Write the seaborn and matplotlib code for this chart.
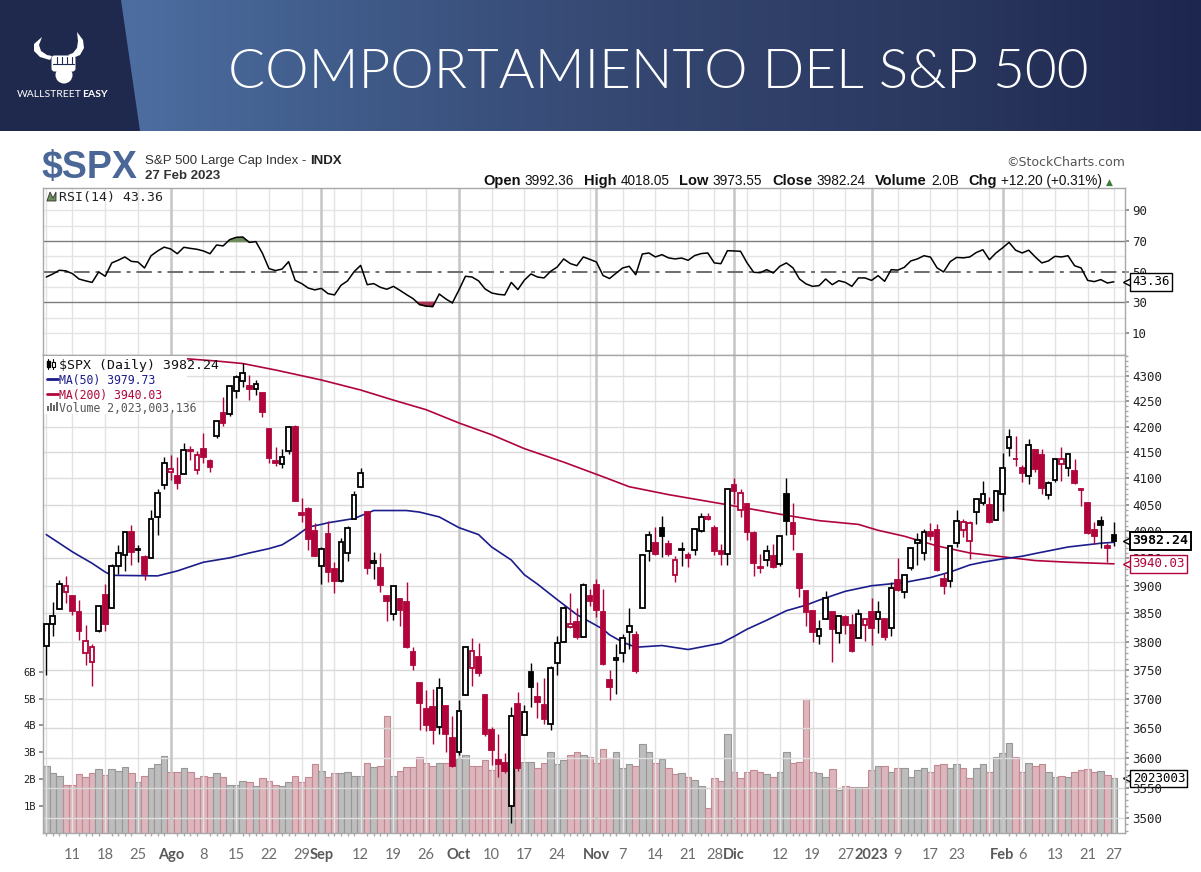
import numpy as np
import pandas as pd
import matplotlib
matplotlib.use("Agg")
import matplotlib.pyplot as plt
import seaborn as sns
from matplotlib.patches import Polygon, Rectangle, Circle, FancyBboxPatch
from matplotlib.ticker import FixedLocator, NullFormatter

# ---------------- DATA ----------------
holidays = ["2022-09-05", "2022-11-24", "2022-12-26", "2023-01-02", "2023-01-16", "2023-02-20"]
dates = pd.bdate_range("2022-07-05", "2023-02-27").drop(pd.to_datetime(holidays))

open_ = [3792.61, 3831.98, 3858.85, 3888.26, 3880.94, 3851.95, 3779.67, 3763.99, 3818.00, 3883.79,
         3860.73, 3935.32, 3955.47, 3998.43, 3965.72, 3953.22, 3951.43, 4026.13, 4087.33, 4112.38,
         4104.21, 4107.96, 4154.85, 4115.87, 4155.93, 4133.11, 4181.02, 4227.40, 4225.02, 4269.37,
         4290.46, 4280.40, 4273.13, 4266.31, 4195.08, 4133.09, 4126.55, 4153.26, 4198.74, 4034.58,
         4041.25, 4000.67, 3936.73, 3994.66, 3930.89, 3909.43, 3959.94, 4022.94, 4083.67, 4037.12,
         3940.73, 3932.41, 3880.95, 3849.91, 3875.23, 3871.40, 3782.36, 3727.14, 3682.72, 3686.44,
         3651.94, 3687.01, 3633.48, 3609.78, 3707.46, 3753.25, 3771.97, 3706.74, 3647.51, 3595.86,
         3590.83, 3520.37, 3690.41, 3638.65, 3746.26, 3703.11, 3689.05, 3657.10, 3762.01, 3799.44,
         3825.97, 3834.69, 3808.26, 3881.85, 3901.79, 3852.90, 3733.25, 3766.98, 3780.71, 3817.02,
         3810.94, 3859.89, 3963.72, 3977.97, 4006.41, 3976.82, 3919.26, 3966.39, 3956.23, 3965.51,
         4000.30, 4023.34, 4005.36, 3964.19, 3957.18, 4087.14, 4040.17, 4052.02, 3996.63, 3933.28,
         3947.79, 3954.17, 3939.29, 4069.38, 4015.54, 3958.37, 3890.91, 3853.79, 3810.47, 3839.49,
         3853.26, 3815.11, 3843.34, 3829.56, 3805.45, 3829.06, 3853.29, 3840.36, 3839.74, 3823.37,
         3910.82, 3888.57, 3932.35, 3977.57, 3960.60, 3999.28, 4002.25, 3911.84, 3909.04, 3978.14,
         4001.74, 3982.71, 4036.08, 4053.72, 4049.27, 4020.85, 4070.07, 4158.68, 4136.69, 4119.57,
         4105.35, 4153.47, 4144.25, 4068.92, 4096.62, 4126.70, 4119.50, 4114.75, 4077.39, 4052.35,
         4001.83, 4018.60, 3973.24, 3992.36]
high = [3832.19, 3870.91, 3910.63, 3918.50, 3880.94, 3873.41, 3829.44, 3796.41, 3863.62, 3902.44,
        3939.81, 3974.13, 3999.29, 4012.44, 3975.30, 3956.41, 4039.56, 4078.95, 4140.15, 4144.95,
        4140.47, 4167.66, 4161.29, 4151.58, 4186.62, 4137.30, 4211.03, 4257.91, 4280.47, 4301.79,
        4325.28, 4302.18, 4292.53, 4266.31, 4195.08, 4159.77, 4156.56, 4200.54, 4203.04, 4062.99,
        4044.98, 4015.37, 3970.23, 4018.43, 3942.55, 3987.89, 4010.50, 4076.81, 4119.28, 4037.12,
        3961.94, 3959.14, 3880.95, 3900.45, 3876.01, 3907.07, 3790.97, 3727.14, 3715.67, 3717.53,
        3736.74, 3687.01, 3671.44, 3698.35, 3791.92, 3806.91, 3797.93, 3706.74, 3652.17, 3640.66,
        3608.34, 3685.41, 3712.00, 3689.73, 3762.79, 3728.58, 3736.00, 3757.89, 3810.74, 3862.85,
        3886.15, 3859.95, 3905.42, 3893.73, 3911.79, 3894.44, 3750.59, 3796.34, 3813.95, 3859.40,
        3818.20, 3958.33, 4001.48, 4008.97, 4028.84, 3983.09, 3954.33, 3979.89, 3962.00, 4005.88,
        4033.78, 4034.02, 4012.27, 3976.77, 4080.11, 4100.51, 4080.48, 4052.45, 4001.51, 3957.57,
        3974.19, 3977.02, 3990.71, 4100.96, 4053.76, 3958.37, 3890.91, 3854.86, 3838.24, 3889.82,
        3853.26, 3845.80, 3846.65, 3848.32, 3858.19, 3839.74, 3878.46, 3873.16, 3839.74, 3906.19,
        3950.57, 3919.83, 3970.07, 3997.76, 4003.95, 4015.39, 4014.16, 3922.94, 3972.96, 4039.31,
        4023.92, 4019.55, 4061.57, 4094.21, 4063.85, 4077.16, 4148.95, 4195.44, 4182.36, 4124.63,
        4176.54, 4156.85, 4156.23, 4094.36, 4138.90, 4159.77, 4148.11, 4136.54, 4081.51, 4052.35,
        4017.37, 4028.30, 3978.25, 4018.05]
low = [3742.06, 3809.37, 3858.85, 3869.34, 3847.22, 3802.36, 3759.07, 3721.56, 3817.18, 3818.63,
       3860.73, 3922.03, 3927.64, 3938.66, 3943.46, 3910.74, 3951.43, 3992.97, 4079.22, 4096.02,
       4079.81, 4107.96, 4135.42, 4107.31, 4128.97, 4112.09, 4177.26, 4201.41, 4219.78, 4256.90,
       4277.77, 4253.08, 4261.98, 4218.70, 4129.86, 4124.03, 4119.97, 4147.59, 4057.66, 4017.42,
       3965.21, 3954.53, 3903.65, 3906.21, 3886.57, 3906.03, 3944.81, 4022.94, 4083.67, 3921.73,
       3912.97, 3888.28, 3837.08, 3838.50, 3827.54, 3789.49, 3749.45, 3647.47, 3644.76, 3623.29,
       3640.61, 3610.40, 3584.13, 3604.93, 3707.46, 3722.66, 3739.22, 3636.66, 3588.10, 3568.45,
       3573.86, 3491.58, 3577.23, 3638.65, 3686.53, 3666.51, 3656.44, 3647.42, 3741.65, 3799.44,
       3824.07, 3803.79, 3808.26, 3863.18, 3843.80, 3758.68, 3698.15, 3708.84, 3764.70, 3786.28,
       3744.22, 3859.89, 3944.82, 3956.40, 3953.17, 3954.34, 3906.54, 3935.98, 3933.34, 3956.88,
       3998.66, 4020.76, 3955.77, 3937.65, 3938.58, 4050.87, 4026.63, 3984.49, 3918.39, 3922.68,
       3935.83, 3933.04, 3935.30, 3993.03, 3965.65, 3879.45, 3827.91, 3800.04, 3795.62, 3839.49,
       3764.49, 3797.01, 3813.22, 3780.78, 3805.45, 3800.34, 3794.33, 3815.77, 3802.42, 3809.56,
       3890.42, 3877.29, 3928.54, 3937.56, 3947.67, 3984.57, 3926.59, 3885.54, 3897.86, 3971.64,
       3989.79, 3949.06, 4013.29, 4048.70, 4015.55, 4020.44, 4037.20, 4141.88, 4123.36, 4093.38,
       4088.39, 4111.67, 4069.67, 4060.79, 4092.67, 4095.01, 4103.98, 4089.49, 4047.95, 3995.19,
       3976.90, 3969.19, 3943.08, 3973.55]
close = [3831.39, 3845.08, 3902.62, 3899.38, 3854.43, 3818.80, 3801.78, 3790.38, 3863.16, 3830.85,
         3936.69, 3959.90, 3998.95, 3961.63, 3966.84, 3921.05, 4023.61, 4072.43, 4130.29, 4118.63,
         4091.19, 4155.17, 4151.94, 4145.19, 4140.06, 4122.47, 4210.24, 4207.27, 4280.15, 4297.14,
         4305.20, 4274.04, 4283.74, 4228.48, 4137.99, 4128.73, 4140.77, 4199.12, 4057.66, 4030.61,
         3986.16, 3955.00, 3966.85, 3924.26, 3908.19, 3979.87, 4006.18, 4067.36, 4110.41, 3932.69,
         3946.01, 3901.35, 3873.33, 3899.89, 3855.93, 3789.93, 3757.99, 3693.23, 3655.04, 3647.29,
         3719.04, 3640.47, 3585.62, 3678.43, 3790.93, 3783.28, 3744.52, 3639.66, 3612.39, 3588.84,
         3577.03, 3669.91, 3583.07, 3677.95, 3719.98, 3695.16, 3665.78, 3752.75, 3797.34, 3859.11,
         3830.60, 3807.30, 3901.06, 3871.98, 3856.10, 3759.69, 3719.89, 3770.55, 3806.80, 3828.11,
         3748.57, 3956.37, 3992.93, 3957.25, 3991.73, 3958.79, 3946.56, 3965.34, 3949.94, 4003.58,
         4027.26, 4026.12, 3963.94, 3957.63, 4080.11, 4076.57, 4071.70, 3998.84, 3941.26, 3933.92,
         3963.51, 3934.38, 3990.56, 4019.65, 3995.32, 3895.75, 3852.36, 3817.66, 3821.62, 3878.44,
         3822.39, 3844.82, 3829.25, 3783.22, 3849.28, 3839.50, 3824.14, 3852.97, 3808.10, 3895.08,
         3892.09, 3919.25, 3969.61, 3983.17, 3999.09, 3990.97, 3928.86, 3898.85, 3972.61, 4019.81,
         4016.95, 4016.22, 4060.43, 4070.56, 4017.77, 4076.60, 4119.21, 4179.76, 4136.48, 4111.08,
         4164.00, 4117.86, 4081.50, 4090.46, 4137.29, 4136.13, 4147.60, 4090.41, 4079.09, 3997.34,
         3991.05, 4012.32, 3970.04, 3982.24]
prev_close_start = 3825.33

# volume in billions
volume_b = [2.49, 2.21, 2.10, 1.76, 1.79, 2.17, 2.06, 2.21, 2.36, 2.16,
            2.36, 2.28, 2.43, 2.21, 1.90, 2.10, 2.40, 2.54, 2.84, 2.24,
            2.24, 2.40, 2.24, 2.02, 2.10, 2.06, 2.21, 2.06, 1.79, 1.76,
            1.91, 1.87, 1.72, 2.02, 1.94, 1.76, 1.72, 1.87, 2.10, 1.87,
            2.06, 2.54, 2.28, 2.06, 2.21, 2.21, 2.24, 2.10, 2.10, 2.58,
            2.43, 2.49, 4.36, 2.10, 2.28, 2.43, 2.43, 2.80, 2.58, 2.50,
            2.58, 2.58, 2.73, 2.73, 2.88, 2.49, 2.49, 2.69, 2.34,
            2.67, 2.42, 3.14, 2.64, 2.64, 2.64, 2.40, 2.58, 3.00, 2.54, 2.70, 2.89, 3.01, 2.89, 2.83, 2.58,
            3.10, 2.79, 3.00, 2.42, 2.54, 2.49, 3.29, 3.00, 2.58, 2.73, 2.40, 2.17, 2.21, 2.08, 1.96,
            1.75, 0.92, 2.05, 1.92, 3.66, 2.27, 2.05, 2.24, 2.33, 2.24, 2.17, 2.08, 2.24, 3.01, 2.58,
            2.64, 5.00, 2.24, 2.21, 2.08, 2.36, 1.58, 1.75, 1.71, 1.71, 1.71, 2.33, 2.49,
            2.49, 2.27, 2.42, 2.42, 2.08, 2.33, 2.42, 2.27, 2.52, 2.54, 2.42, 2.54, 2.42, 2.05, 2.40,
            2.54, 2.27, 2.83, 2.95, 3.33, 2.83, 2.27, 2.58, 2.49, 2.54, 2.24, 2.08, 2.12, 2.08, 2.24,
            2.33, 2.36, 2.27, 2.30, 2.14, 2.02]

rsi_val = [46.5, 48.5, 50.9, 50.5, 48.7, 45.2, 44.0, 43.0, 49.8, 47.0,
           55.7, 57.5, 59.6, 56.7, 56.3, 52.4, 60.4, 63.5, 66.0, 64.8,
           61.7, 65.9, 65.2, 64.6, 63.5, 61.7, 67.4, 66.8, 70.9, 72.4,
           72.6, 69.1, 69.6, 62.0, 52.0, 50.7, 51.7, 56.5, 44.3, 42.2,
           39.3, 38.1, 39.1, 35.7, 34.8, 41.1, 44.0, 50.0, 54.1, 41.5,
           42.2, 39.8, 38.5, 40.4, 37.8, 35.0, 32.4, 28.5, 27.5, 27.2,
           35.4, 32.2, 29.6, 38.0, 47.0, 46.5, 44.0, 38.7, 36.1, 35.2,
           34.8, 43.0, 38.3, 44.5, 48.5, 46.5, 45.9, 50.2, 53.0, 58.3,
           55.3, 53.9, 59.6, 58.0, 56.3, 47.5, 45.5, 49.0, 52.4, 53.5,
           48.0, 61.5, 62.2, 59.6, 61.1, 59.0, 58.3, 58.9, 57.4, 60.5,
           61.8, 62.2, 55.7, 55.2, 63.7, 63.5, 63.3, 55.7, 49.6, 49.3,
           51.3, 49.1, 53.5, 55.7, 52.5, 45.2, 42.0, 40.4, 40.9, 45.2,
           41.5, 44.1, 43.0, 40.4, 45.9, 45.9, 44.3, 47.4, 43.7, 51.3,
           51.0, 52.8, 57.0, 58.3, 60.4, 59.5, 52.5, 49.8, 56.5, 59.3,
           59.0, 59.6, 62.5, 64.3, 57.8, 62.2, 65.5, 69.1, 64.0, 62.2,
           64.0, 59.6, 55.7, 57.0, 60.0, 59.6, 60.4, 53.9, 52.4, 44.3,
           43.5, 44.8, 42.6, 43.36]

ma50_dates = ["2022-07-05", "2022-07-07", "2022-07-11", "2022-07-14", "2022-07-18", "2022-07-19",
              "2022-07-28", "2022-08-02", "2022-08-08", "2022-08-12", "2022-08-17", "2022-08-22",
              "2022-08-24", "2022-08-26", "2022-08-30", "2022-09-01", "2022-09-02", "2022-09-09",
              "2022-09-14", "2022-09-21", "2022-09-23", "2022-09-28", "2022-10-03", "2022-10-06",
              "2022-10-10", "2022-10-13", "2022-10-17", "2022-10-19", "2022-10-24", "2022-10-27",
              "2022-10-31", "2022-11-02", "2022-11-03", "2022-11-07", "2022-11-09", "2022-11-15",
              "2022-11-21", "2022-11-29", "2022-12-01", "2022-12-05", "2022-12-08", "2022-12-13",
              "2022-12-16", "2022-12-20", "2022-12-27", "2023-01-03", "2023-01-10", "2023-01-17",
              "2023-01-20", "2023-01-25", "2023-01-27", "2023-02-01", "2023-02-06", "2023-02-08",
              "2023-02-15", "2023-02-23", "2023-02-27"]
ma50_val = [3994, 3978, 3962, 3941, 3925, 3919,
            3918, 3927, 3943, 3951, 3960, 3968,
            3975, 3990, 4008, 4013, 4016, 4024,
            4039, 4039, 4036, 4027, 4007, 3994,
            3971, 3947, 3920, 3903, 3875, 3848,
            3835, 3822, 3812, 3799, 3790, 3793,
            3786, 3797, 3809, 3822, 3838, 3855,
            3865, 3874, 3890, 3900, 3906, 3915,
            3925, 3938, 3943, 3949, 3954, 3959,
            3971, 3978, 3979.73]
ma200_dates = ["2022-07-19", "2022-07-27", "2022-08-03", "2022-08-10", "2022-08-16", "2022-08-23",
               "2022-09-01", "2022-09-12", "2022-09-19", "2022-09-26", "2022-10-03", "2022-10-10",
               "2022-10-17", "2022-10-25", "2022-11-02", "2022-11-08", "2022-11-16", "2022-11-29",
               "2022-12-06", "2022-12-13", "2022-12-20", "2022-12-29", "2023-01-04", "2023-01-10",
               "2023-01-18", "2023-01-25", "2023-02-01", "2023-02-08", "2023-02-15", "2023-02-27"]
ma200_val = [4352, 4341, 4335, 4330, 4325, 4312,
             4292, 4272, 4252, 4233, 4207, 4184,
             4157, 4131, 4103, 4084, 4069, 4052,
             4041, 4030, 4020, 4013, 4002, 3991,
             3973, 3960, 3953, 3946, 3943, 3940.03]

tick_dates = ["2022-07-11", "2022-07-18", "2022-07-25", "2022-08-01", "2022-08-08", "2022-08-15",
              "2022-08-22", "2022-08-29", "2022-09-01", "2022-09-12", "2022-09-19", "2022-09-26",
              "2022-10-03", "2022-10-10", "2022-10-17", "2022-10-24", "2022-11-01", "2022-11-07",
              "2022-11-14", "2022-11-21", "2022-11-28", "2022-12-01", "2022-12-12", "2022-12-19",
              "2022-12-27", "2023-01-03", "2023-01-09", "2023-01-17", "2023-01-23", "2023-02-01",
              "2023-02-06", "2023-02-13", "2023-02-21", "2023-02-27"]
tick_labels = ["11", "18", "25", "Ago", "8", "15", "22", "29", "Sep", "12", "19", "26",
               "Oct", "10", "17", "24", "Nov", "7", "14", "21", "28", "Dic", "12", "19",
               "27", "2023", "9", "17", "23", "Feb", "6", "13", "21", "27"]
month_labels = ["Ago", "Sep", "Oct", "Nov", "Dic", "2023", "Feb"]
extra_week_dates = ["2022-07-05", "2022-09-06", "2022-10-31", "2022-12-05", "2023-01-30"]

price_ticks = list(range(3500, 4301, 50))
rsi_ticks = [10, 30, 50, 70, 90]
vol_ticks = [1, 2, 3, 4, 5, 6]

# ---------------- STYLE ----------------
sns.set_theme(style="white")
plt.rcParams["font.family"] = ["DejaVu Sans"]

RED = "#b0043a"
NAVY = "#1c1c8c"
MONO = "DejaVu Sans Mono"
W, H = 1201, 872


def rect(x0, y0, x1, y1):
    return [x0 / W, 1 - y1 / H, (x1 - x0) / W, (y1 - y0) / H]


fig = plt.figure(figsize=(W / 100, H / 100), dpi=100)
fig.patch.set_facecolor("white")

# background / banner
bg = fig.add_axes([0, 0, 1, 1], zorder=0)
bg.set_xlim(0, W)
bg.set_ylim(H, 0)
bg.axis("off")
stops_x = [0, 120, 300, 500, 700, 900, 1201]
stops_c = [(78, 110, 162), (78, 110, 162), (66, 95, 142), (58, 80, 124), (50, 67, 108), (44, 58, 98), (29, 38, 78)]
xs = np.arange(W)
grad = np.stack([np.interp(xs, stops_x, [c[k] for c in stops_c]) for k in range(3)], axis=-1) / 255
bg.imshow(grad[None, :, :], extent=(0, W, 131, 0), aspect="auto", zorder=0)
bg.add_patch(Polygon([(0, 0), (121, 0), (140, 131), (0, 131)], closed=True, fc="#1f294d", ec="none", zorder=1))
bg.text(658, 73, "COMPORTAMIENTO DEL S&P 500", color="white", fontsize=39.5, family="Lato",
        fontweight=300, ha="center", va="center", zorder=2)

# logo
bg.add_patch(Polygon([(50, 60), (40, 57), (34, 51), (34, 44), (42, 37), (39, 45), (41, 51), (47, 55), (52, 56)],
                     fc="white", ec="none", zorder=2))
bg.add_patch(Polygon([(73, 58), (80, 55), (84, 48), (83, 40), (77, 32), (78, 41), (77, 48), (73, 53), (68, 55)],
                     fc="white", ec="none", zorder=2))
bg.add_patch(Circle((64, 75), 8.5, fc="white", ec="none", zorder=2))
bg.add_patch(FancyBboxPatch((52, 56), 23, 15, boxstyle="round,pad=0.5,rounding_size=3", fc="white", ec="none", zorder=2))
for fx in [57, 62, 67, 72]:
    bg.plot([fx, fx], [57, 63], color="#1f294d", lw=0.8, zorder=3)
bg.plot([53, 74], [64, 64], color="#1f294d", lw=0.8, zorder=3)
t1 = bg.text(17, 97, "WALLSTREET", color="white", fontsize=7.5, family="Lato", va="baseline", zorder=3)
bg.annotate("EASY", xy=(1, 0), xycoords=t1, va="bottom", ha="left", color="white", fontsize=7.5,
            family="Lato", fontweight="bold", zorder=3)

# ---------------- AXES ----------------
ax_r = fig.add_axes(rect(43, 188, 1125, 355), zorder=2)
ax_v = fig.add_axes(rect(43, 355, 1125, 832.5), zorder=2)
ax_p = fig.add_axes(rect(43, 355, 1125, 832.5), zorder=3)
ax_p.patch.set_alpha(0)

x = np.arange(len(dates))
o, h, l, c = (np.array(v) for v in (open_, high, low, close))
prev = np.r_[prev_close_start, c[:-1]]
up = c >= prev
col = np.where(up, "black", RED)
face = np.where(c < o, col, "white")

for ax in (ax_r, ax_v, ax_p):
    ax.set_xlim(-0.5, 164.7)

# vertical grid
week_x = dates.get_indexer(pd.to_datetime(tick_dates + extra_week_dates))
month_x = dates.get_indexer(pd.to_datetime([d for d, lab in zip(tick_dates, tick_labels) if lab in month_labels]))
for ax in (ax_r, ax_p):
    for wx in week_x:
        ax.axvline(wx, color="#e2e2e2", lw=1.0, zorder=0.5)
    for mx in month_x:
        ax.axvline(mx, color="#c6c6c6", lw=1.8, zorder=0.6)

# ---- volume ----
vol_face = np.where(up, "#bdbdbd", "#dcb6bc")
vol_edge = np.where(up, "#979797", "#c48892")
ax_v.bar(x, volume_b, width=1.0, color=vol_face, edgecolor=vol_edge, linewidth=0.8, zorder=1)
ax_v.set_ylim(0, 17.82)
ax_v.set_yticks(vol_ticks)
ax_v.set_yticklabels([f"{v}B" for v in vol_ticks], family=MONO, fontsize=7.5, color="#222")
ax_v.tick_params(axis="y", length=3, color="#888", pad=2, left=True)
ax_v.set_xticks([])
for s in ax_v.spines.values():
    s.set_visible(False)

# ---- price ----
ax_p.set_yscale("log")
ax_p.set_ylim(3476.9, 4342.2)
for pt in price_ticks:
    ax_p.axhline(pt, color="#d8d8d8" if pt % 100 else "#dedede", lw=1.0, zorder=0.5)
ax_p.vlines(x, l, h, colors=col, lw=1.0, zorder=3)
body_lo = np.minimum(o, c)
body_h = np.maximum(np.abs(c - o), 0.8)
ax_p.bar(x, body_h, bottom=body_lo, width=0.72, color=face, edgecolor=col, linewidth=1.3, zorder=4)

ma50_x = dates.get_indexer(pd.to_datetime(ma50_dates))
ma200_x = dates.get_indexer(pd.to_datetime(ma200_dates))
sns.lineplot(x=ma200_x, y=ma200_val, ax=ax_p, color=RED, lw=1.2, zorder=2.5)
sns.lineplot(x=ma50_x, y=ma50_val, ax=ax_p, color=NAVY, lw=1.2, zorder=2.5)

ax_p.yaxis.tick_right()
ax_p.yaxis.set_major_locator(FixedLocator(price_ticks))
ax_p.yaxis.set_minor_locator(FixedLocator(list(range(3480, 4341, 10))))
ax_p.yaxis.set_minor_formatter(NullFormatter())
ax_p.set_yticklabels([str(p) for p in price_ticks], family=MONO, fontsize=9, color="#222")
ax_p.tick_params(axis="y", which="major", length=3, color="#888", pad=2, right=True)
ax_p.tick_params(axis="y", which="minor", length=2, color="#aaa", right=True)

tick_x = dates.get_indexer(pd.to_datetime(tick_dates))
ax_p.set_xticks(tick_x)
ax_p.set_xticklabels(tick_labels, family="Lato", fontsize=10.5, color="#6d6d6d")
for lab in ax_p.get_xticklabels():
    if lab.get_text() in month_labels:
        lab.set_fontweight("bold")
        lab.set_color("#5a5a5a")
ax_p.xaxis.set_minor_locator(FixedLocator(x))
ax_p.tick_params(axis="x", which="major", length=0, pad=11)
ax_p.tick_params(axis="x", which="minor", length=2.5, color="#aaa", bottom=True)
ax_p.set_xlabel("")
ax_p.set_ylabel("")
for s in ax_p.spines.values():
    s.set_color("#a8a8a8")
    s.set_linewidth(1.0)

# ---- RSI ----
rv = np.array(rsi_val)
ax_r.set_ylim(-4.4, 104.6)
for gv in [10, 20, 40, 60, 80, 90]:
    ax_r.axhline(gv, color="#e4e4e4", lw=1.0, zorder=0.5)
ax_r.axhline(70, color="#7d7d7d", lw=1.0, zorder=1)
ax_r.axhline(30, color="#7d7d7d", lw=1.0, zorder=1)
ax_r.axhline(50, color="#6e6e6e", lw=1.4, dashes=(8, 3, 2, 3), zorder=1)
ax_r.fill_between(x, rv, 70, where=rv > 70, interpolate=True, color="#6d8e5c", zorder=2)
ax_r.fill_between(x, rv, 30, where=rv < 30, interpolate=True, color="#a8324f", zorder=2)
sns.lineplot(x=x, y=rv, ax=ax_r, color="black", lw=1.1, zorder=3)
ax_r.yaxis.tick_right()
ax_r.set_yticks(rsi_ticks)
ax_r.set_yticklabels([str(t) for t in rsi_ticks], family=MONO, fontsize=9, color="#222")
ax_r.tick_params(axis="y", length=3, color="#888", pad=2, right=True)
ax_r.set_xticks([])
ax_r.set_xlabel("")
ax_r.set_ylabel("")
for s in ax_r.spines.values():
    s.set_color("#a8a8a8")
    s.set_linewidth(1.0)


# ---- value tags on right ----
def tag(ax, val, text, ec, tc, bold=False):
    tr = ax.get_yaxis_transform()
    ax.plot([1.004], [val], marker="<", ms=8, mfc="white", mec=ec, mew=1.0,
            transform=tr, clip_on=False, zorder=20)
    ax.annotate(text, xy=(1.0, val), xycoords=tr, xytext=(5.5, 0), textcoords="offset points",
                ha="left", va="center", fontsize=9 if not bold else 9.5, family=MONO,
                fontweight="bold" if bold else "normal", color=tc, zorder=21, annotation_clip=False,
                bbox=dict(boxstyle="square,pad=0.18", fc="white", ec=ec, lw=1.4 if bold else 1.0))


tag(ax_r, rv[-1], f"{rv[-1]:.2f}", "black", "black")
tag(ax_p, c[-1], f"{c[-1]:.2f}", "black", "black", bold=True)
tag(ax_p, ma200_val[-1], f"{ma200_val[-1]:.2f}", RED, RED)
tag(ax_v, volume_b[-1], "2023003", "black", "black")

# ---------------- OVERLAY TEXT ----------------
ov = fig.add_axes([0, 0, 1, 1], zorder=10)
ov.set_xlim(0, W)
ov.set_ylim(H, 0)
ov.axis("off")
ov.patch.set_alpha(0)

ov.text(41, 178, "$SPX", fontsize=27, fontweight="bold", color="#4a6797", family="Liberation Sans", va="baseline")
s1 = ov.text(145, 164, "S&P 500 Large Cap Index - ", fontsize=9.5, color="#333", family="Liberation Sans", va="baseline")
ov.annotate("INDX", xy=(1, 0), xycoords=s1, va="bottom", ha="left", fontsize=9.5, fontweight="bold",
            color="#222", family="Liberation Sans")
ov.text(145, 179, "27 Feb 2023", fontsize=9.5, fontweight="bold", color="#333", family="Liberation Sans", va="baseline")
ov.text(1125, 166, "\u00a9StockCharts.com", fontsize=9, color="#555", family="DejaVu Sans", ha="right", va="baseline")

pieces = [("Open", True), ("3992.36", False), ("High", True), ("4018.05", False), ("Low", True),
          ("3973.55", False), ("Close", True), ("3982.24", False), ("Volume", True), ("2.0B", False),
          ("Chg", True), ("+12.20 (+0.31%)", False)]
prev_t = ov.text(483, 185, pieces[0][0], fontsize=10.5, fontweight="bold", family="Liberation Sans",
                 color="#111", va="baseline")
for txt, bold in pieces[1:]:
    gap = 3 if not bold else 7
    prev_t = ov.annotate(txt, xy=(1, 0), xycoords=prev_t, xytext=(gap, 0), textcoords="offset points",
                         va="bottom", ha="left", fontsize=10.5 if bold else 9.8, family="Liberation Sans",
                         fontweight="bold" if bold else "normal", color="#111")
ov.annotate("\u25b2", xy=(1, 0), xycoords=prev_t, xytext=(3, 1), textcoords="offset points",
            va="bottom", ha="left", fontsize=6.5, color="#3a7a3a", family="DejaVu Sans")

# RSI label
ov.add_patch(Polygon([(47, 201), (50, 192), (53, 198), (56, 192), (56, 201)], fc="#6d8e5c", ec="#333", lw=0.6))
ov.text(59, 201, "RSI(14) 43.36", family=MONO, fontsize=9.5, color="#222", va="baseline")

# price legend box
ov.add_patch(Rectangle((43.5, 356), 143, 58, fc="white", ec="none", zorder=1))
ov.plot([48, 48], [359, 369], color="black", lw=0.8, zorder=2)
ov.add_patch(Rectangle((46.5, 361), 3, 6, fc="black", ec="black", zorder=2))
ov.plot([53, 53], [359, 369], color="black", lw=0.8, zorder=2)
ov.add_patch(Rectangle((51.5, 362), 3, 5, fc="white", ec="black", lw=0.8, zorder=2))
ov.text(59, 369, "$SPX (Daily) 3982.24", family=MONO, fontsize=9.5, color="#111", va="baseline", zorder=3)
ov.plot([47, 58], [379.5, 379.5], color=NAVY, lw=2, zorder=2)
ov.text(59, 384, "MA(50) 3979.73", family=MONO, fontsize=8.3, color=NAVY, va="baseline", zorder=3)
ov.plot([47, 58], [394, 394], color=RED, lw=2, zorder=2)
ov.text(59, 398.5, "MA(200) 3940.03", family=MONO, fontsize=8.3, color=RED, va="baseline", zorder=3)
for bx, bh in [(47, 5), (50, 8), (53, 6), (56, 9)]:
    ov.add_patch(Rectangle((bx, 411 - bh), 2.4, bh, fc="#666", ec="none", zorder=2))
ov.text(59, 412, "Volume 2,023,003,136", family=MONO, fontsize=8.3, color="#555", va="baseline", zorder=3)

fig.savefig("out.png", dpi=100)
